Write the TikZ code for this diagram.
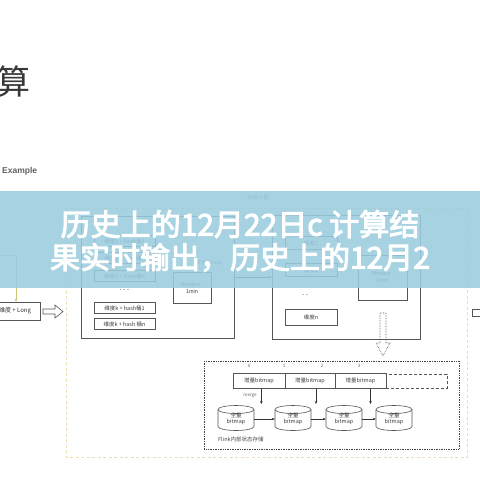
\documentclass[tikz,border=0pt]{standalone}
\usepackage{fontspec}
\setmainfont{Liberation Sans}
\newfontfamily\cjk{Noto Sans CJK SC}
\newfontfamily\cjktitle[FakeBold=3.5]{Noto Sans CJK SC}
\usetikzlibrary{arrows.meta,calc}
\definecolor{bandcol}{RGB}{154,204,223}
\definecolor{linegray}{RGB}{85,85,85}
\definecolor{yelldash}{RGB}{232,224,180}
\definecolor{olive}{RGB}{200,200,120}
\tikzset{
  rowbox/.style={draw=linegray, fill=white, line width=0.6pt, inner sep=0pt, font=\cjk\fontsize{5.5}{6}\selectfont, text=black!75},
  bigbox/.style={draw=linegray, line width=0.7pt, inner sep=0pt},
  winbox/.style={draw=linegray, line width=0.7pt, fill=white, inner sep=0pt, align=center, font=\fontsize{5.5}{7}\selectfont, text=black!75},
  cellbox/.style={draw=linegray, line width=0.6pt, fill=white, inner sep=0pt, minimum height=15pt, font=\cjk\fontsize{5.5}{6}\selectfont, text=black!75},
  cylsty/.style={draw=linegray, line width=0.6pt, fill=white},
  cyltext/.style={inner sep=0pt, minimum width=36pt, minimum height=25pt, align=center, font=\cjk\fontsize{5.5}{6.5}\selectfont, text=black!75},
  arr/.style={-{Stealth[length=3pt,width=2.5pt]}, draw=black!80, line width=0.5pt},
  tiny/.style={font=\cjk\fontsize{4.5}{5}\selectfont, text=black!60, inner sep=0pt},
}
\newcommand\mycyl[3]{%
  \fill[white] (#2-18,#3-8.5) rectangle (#2+18,#3+12.5);
  \draw[cylsty] (#2-18,#3-8.5) -- (#2-18,#3+8.5) arc[start angle=180,end angle=0,x radius=18,y radius=4] -- (#2+18,#3-8.5);
  \draw[cylsty] (#2,#3-8.5) ellipse[x radius=18,y radius=4];
  \node[cyltext] (#1) at (#2,#3+1) {全量\\bitmap};
}
\begin{document}
\begin{tikzpicture}[x=1pt,y=-1pt]
\useasboundingbox (0,0) rectangle (480,480);
\fill[white] (0,0) rectangle (480,480);
% header remnants
\node[font=\cjk\fontsize{34}{34}\selectfont, text=black!78, inner sep=0pt] (hdr) at (14,82) {算};
\node[font=\bfseries\fontsize{8.5}{9}\selectfont, text=black!62, anchor=west, inner sep=0pt] (ex) at (2,171) {Example};
% left partial elements
\node[draw=linegray, line width=0.7pt, minimum width=50pt, minimum height=18pt, inner sep=0pt, font=\cjk\fontsize{6}{7}\selectfont, text=black!80] (src) at (15,311) {维度 + Long};
\coordinate (gtop) at (0,255);
\coordinate (gcorner) at (16,255);
\draw[olive, line width=0.7pt] (gtop) -- (gcorner);
\draw[olive, line width=0.7pt, -{Stealth[length=3pt,width=3pt]}] (gcorner) -- (gcorner |- src.north);
\draw[linegray, line width=0.6pt, fill=white] (43,309) -- (55,309) -- (55,305) -- (63,311.5) -- (55,318) -- (55,314) -- (43,314) -- cycle;
% outer yellow dashed box
\draw[yelldash, line width=0.9pt, dash pattern=on 3pt off 2.5pt] (66,208) rectangle (467,457);
\node[font=\cjk\fontsize{5.5}{6}\selectfont, text=black!55, inner sep=0pt] (allcalc) at (258,197) {全维计算};
% box 1
\node[bigbox, minimum width=153pt, minimum height=122pt] (box1) at (157.5,277) {};
\node[rowbox, minimum width=61pt, minimum height=11pt] (r11) at (124.5,241) {维度1 + hash桶1};
\node[rowbox, minimum width=61pt, minimum height=11pt] (r12) at (124.5,258) {维度1 + hash桶2};
\node[rowbox, minimum width=61pt, minimum height=11pt] (r1n) at (124.5,276) {维度1 + hash桶n};
\node[font=\fontsize{6}{6}\selectfont, text=black!70, inner sep=0pt] (dots1) at (124.5,291) {- - -};
\node[rowbox, minimum width=61pt, minimum height=11pt] (rk1) at (124.5,308) {维度k + hash桶1};
\node[rowbox, minimum width=61pt, minimum height=11pt] (rkn) at (124.5,324) {维度k + hash 桶n};
\node[winbox, minimum width=38pt, minimum height=31pt] (win1) at (192,288) {Window :\\1min};
\node[tiny, font=\cjk\fontsize{5}{5}\selectfont] (tobm) at (209,263) {转为bitmap};
% box 2
\node[bigbox, minimum width=148pt, minimum height=124pt] (box2) at (346,277) {};
\node[rowbox, minimum width=52pt, minimum height=13pt] (d1) at (311,243) {维度1};
\node[rowbox, minimum width=52pt, minimum height=13pt] (d2) at (311,270) {维度2};
\node[font=\fontsize{6}{6}\selectfont, text=black!70, inner sep=0pt] (dots2) at (305,296) {- -};
\node[rowbox, minimum width=52pt, minimum height=16pt] (dn) at (311,317) {维度n};
\node[winbox, minimum width=49pt, minimum height=45pt] (win2) at (382.5,277.5) {Window :\\1min};
\draw[arr] (box1) -- (box2);
% dotted hollow arrow down
\draw[black!70, line width=0.6pt, densely dotted] (380,313) -- (386,313) -- (386,343) -- (390,343) -- (383,356) -- (376,343) -- (380,343) -- cycle;
% right partial
\draw[linegray, line width=0.6pt] (482,309) -- (472,309) -- (472,316) -- (482,316);
% bottom dotted box
\draw[black!75, line width=0.7pt, densely dotted] (204,361) rectangle (459,449);
\node[tiny] (n0) at (249,366) {0};
\node[tiny] (n1) at (284,366) {1};
\node[tiny] (n2) at (322,366) {2};
\node[tiny] (n3) at (359,366) {3};
\node[cellbox, minimum width=52pt] (c0) at (259,381) {增量bitmap};
\node[cellbox, minimum width=50pt] (c1) at (310,381) {增量bitmap};
\node[cellbox, minimum width=51pt] (c2) at (360.5,381) {增量bitmap};
\node[draw=linegray, line width=0.6pt, densely dashed, minimum width=61pt, minimum height=14pt, inner sep=0pt] (c3) at (416.5,381) {};
\node[tiny] (mg) at (250,396) {merge};
\mycyl{b0}{236}{418}
\mycyl{b1}{293}{418}
\mycyl{b2}{344}{418}
\mycyl{b3}{394}{418}
\draw[arr] (b0) -- (b1);
\draw[arr] (b1) -- (b2);
\draw[arr] (b2) -- (b3);
\draw[arr] (c0.south east) ++(-24,0) coordinate (a0) (a0) -- (a0 |- 0,404);
\draw[arr] (c1.south) ++(6,0) coordinate (a1) (a1) -- (a1 |- 0,404);
\draw[arr] (c2.south) ++(10,0) coordinate (a2) (a2) -- (a2 |- 0,404);
\node[anchor=west, font=\cjk\fontsize{5.5}{6}\selectfont, text=black!70, inner sep=0pt] (flink) at (218,439) {Flink内部状态存储};
% overlay band
\fill[bandcol, opacity=0.88] (0,191) rectangle (480,288);
\node[font=\cjktitle\fontsize{30}{33}\selectfont, text=white, align=center, inner sep=0pt] (title) at (240,241) {历史上的12月22日c 计算结\\果实时输出，历史上的12月2};
\end{tikzpicture}
\end{document}
